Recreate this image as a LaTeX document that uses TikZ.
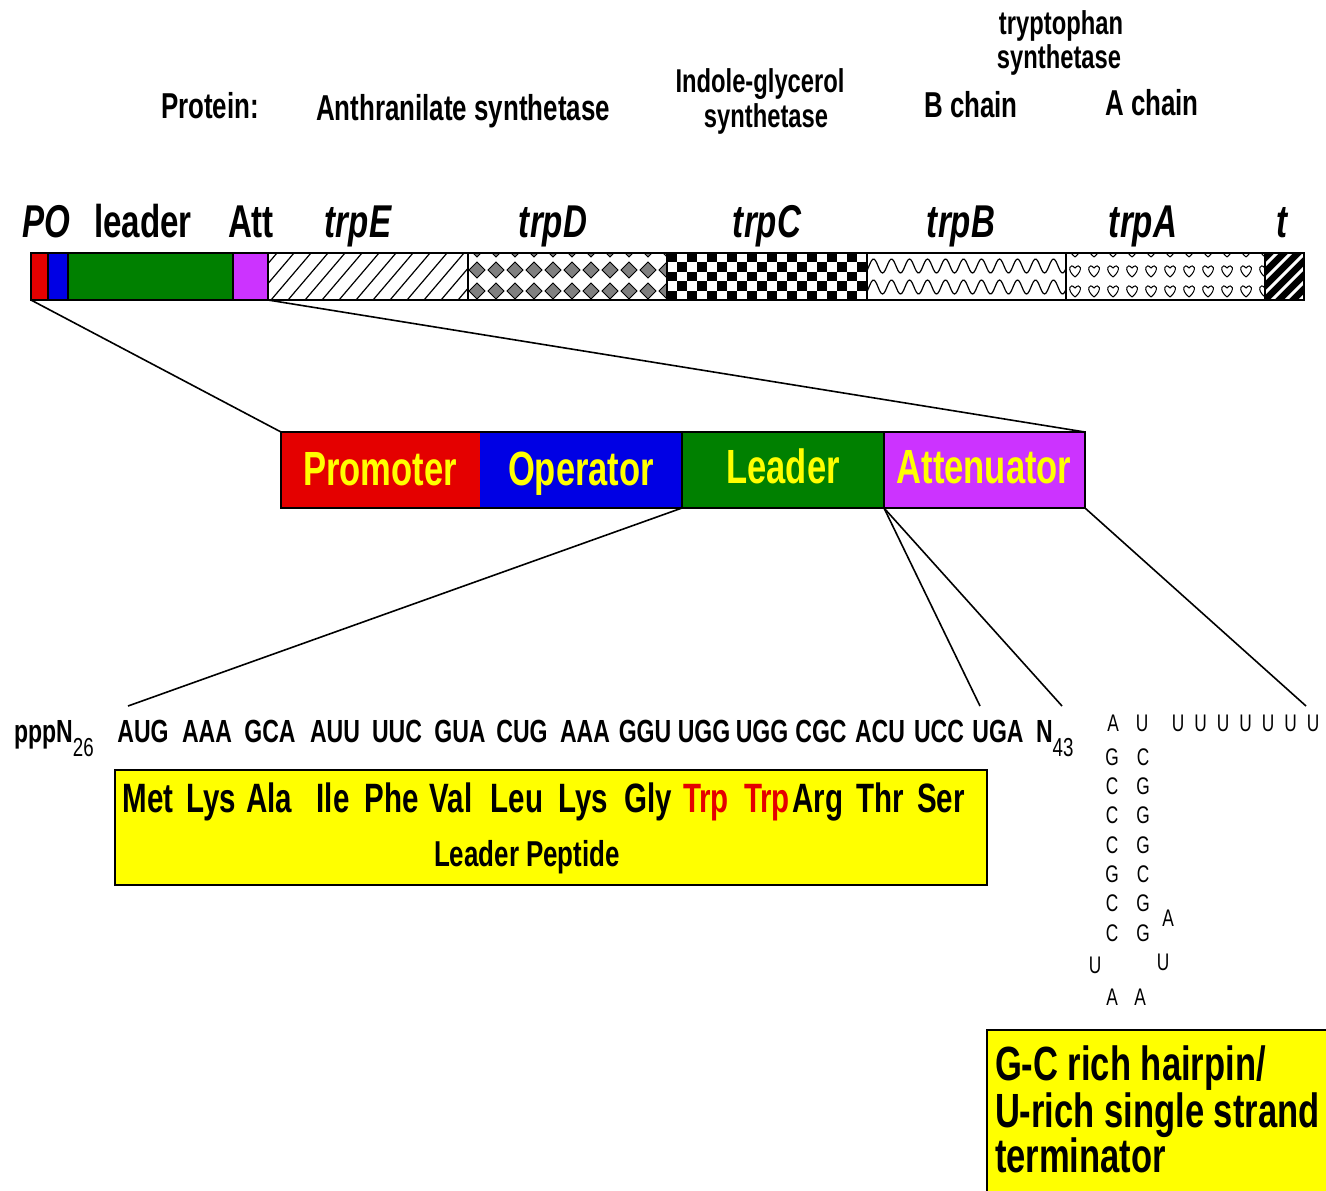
\documentclass[tikz,border=0pt]{standalone}
\usepackage{fontspec}
\setmainfont{Liberation Sans}[FakeStretch=0.72]
\usetikzlibrary{calc}
\definecolor{pred}{RGB}{228,0,0}
\definecolor{pblue}{RGB}{0,0,228}
\definecolor{pgreen}{RGB}{0,128,0}
\definecolor{pmag}{RGB}{204,51,255}
\definecolor{pyel}{RGB}{255,255,0}
\begin{document}
\begin{tikzpicture}[x=0.5pt,y=-0.5pt,
  every node/.style={inner sep=0pt,outer sep=0pt},
  conn/.style={line width=0.8pt},
  seg/.style={draw=black,line width=0.8pt,anchor=north west,minimum height=23.5pt},
  mbox/.style={anchor=north west,minimum height=38pt},
  toplab/.style={anchor=base,font=\fontsize{18}{20}\selectfont\bfseries},
  toplabs/.style={anchor=base,font=\fontsize{16.5}{18}\selectfont\bfseries},
  glab/.style={anchor=base,font=\fontsize{23}{25}\selectfont\bfseries},
  gilab/.style={anchor=base,font=\fontsize{23}{25}\selectfont\bfseries\itshape},
  midlab/.style={anchor=base,text=pyel,font=\fontsize{24}{26}\selectfont\bfseries},
  codon/.style={anchor=base,font=\fontsize{16}{18}\selectfont\bfseries},
  aa/.style={anchor=base,font=\fontsize{20.5}{23}\selectfont\bfseries},
  hp/.style={font=\fontsize{12}{14}\selectfont},
  termlab/.style={anchor=base west,font=\fontsize{24}{26}\selectfont\bfseries}]
\useasboundingbox (0,0) rectangle (1326,1190);
\fill[white] (0,0) rectangle (1326,1190);

% ---------- top protein labels ----------
\node[toplab] (tProt) at (210,118) {Protein:};
\node[toplab] (tAnth) at (463,120) {Anthranilate synthetase};
\node[toplabs] (tIgp1) at (760,92) {Indole-glycerol};
\node[toplabs] (tIgp2) at (766,127) {synthetase};
\node[toplabs] (tTs1) at (1061,34) {tryptophan};
\node[toplabs] (tTs2) at (1059,68) {synthetase};
\node[toplab] (tB) at (971,117) {B chain};
\node[toplab] (tA) at (1152,115) {A chain};

% ---------- gene labels ----------
\node[gilab] (gPO) at (46,237) {PO};
\node[glab] (gLd) at (143,237) {leader};
\node[glab] (gAt) at (251,237) {Att};
\node[gilab] (gE) at (358,237) {trpE};
\node[gilab] (gD) at (553,237) {trpD};
\node[gilab] (gC) at (767,237) {trpC};
\node[gilab] (gB) at (961,237) {trpB};
\node[gilab] (gA) at (1143,237) {trpA};
\node[gilab] (gT) at (1282,237) {t};

% ---------- patterns of the gene bar ----------
\begin{scope}
  \clip (268,253) rectangle (468,300);
  \foreach \k in {0,...,15} \draw[line width=0.6pt] ({220+\k*17},300) -- ++(40,-47);
\end{scope}
\begin{scope}
  \clip (468,253) rectangle (667,300);
  \foreach \cx in {0,...,10}{\foreach \cy in {249,270,291}{
    \filldraw[fill=black!50,line width=0.4pt,shift={({477+\cx*19},\cy)}] (0,-8) -- (8,0) -- (0,8) -- (-8,0) -- cycle;}}
\end{scope}
\begin{scope}
  \clip (667,253) rectangle (867,300);
  \foreach \i in {0,...,19}{\foreach \j in {0,...,4}{
    \pgfmathtruncatemacro\m{mod(\i+\j,2)}
    \ifnum\m=0 \fill ({667+\i*10},{253+\j*9.4}) rectangle ++(10,9.4); \fi}}
\end{scope}
\begin{scope}
  \clip (867,253) rectangle (1066,300);
  \foreach \yc in {245,266,287}{
    \draw[line width=0.6pt] plot[domain=0:210,samples=150,smooth] ({\x+860},{\yc+7*sin(20*\x)});}
\end{scope}
\begin{scope}
  \clip (1066,253) rectangle (1265,300);
  \foreach \cx in {0,...,10}{\foreach \cy in {251,271,291}{
    \draw[line width=0.5pt,shift={({1075+\cx*19},\cy)}] (0,6) .. controls (-9,-1) and (-5,-9) .. (0,-3) .. controls (5,-9) and (9,-1) .. (0,6);}}
\end{scope}
\fill[black] (1265,253) rectangle (1304,300);
\begin{scope}
  \clip (1265,253) rectangle (1304,300);
  \foreach \k in {0,...,6} \draw[white,line width=1.5pt] ({1230+\k*14},300) -- ++(47,-47);
\end{scope}

% ---------- gene bar segments ----------
\node[seg,fill=pred,minimum width=8.5pt] (sP) at (31,253) {};
\node[seg,fill=pblue,minimum width=10pt] (sO) at (48,253) {};
\node[seg,fill=pgreen,minimum width=82.5pt] (sL) at (68,253) {};
\node[seg,fill=pmag,minimum width=17.5pt] (sA) at (233,253) {};
\node[seg,minimum width=100pt] (sE) at (268,253) {};
\node[seg,minimum width=99.5pt] (sD) at (468,253) {};
\node[seg,minimum width=100pt] (sC) at (667,253) {};
\node[seg,minimum width=99.5pt] (sB) at (867,253) {};
\node[seg,minimum width=99.5pt] (sA2) at (1066,253) {};
\node[seg,minimum width=19.5pt] (sT) at (1265,253) {};
\draw[line width=1.2pt] (sP.north west) rectangle (sT.south east);

% ---------- expanded regulatory region ----------
\node[mbox,fill=pred,minimum width=99.5pt] (prom) at (281,432) {};
\node[mbox,fill=pblue,minimum width=101pt] (oper) at (480,432) {};
\node[mbox,fill=pgreen,minimum width=101pt] (lead) at (682,432) {};
\node[mbox,fill=pmag,minimum width=100.5pt] (att) at (884,432) {};
\draw[line width=0.9pt] (prom.north west) rectangle (att.south east);
\draw[line width=0.9pt] (lead.north west) -- (lead.south west);
\draw[line width=0.9pt] (att.north west) -- (att.south west);
\node[midlab] (mP) at (380,485) {Promoter};
\node[midlab] (mO) at (581,485) {Operator};
\node[midlab] (mL) at (783,483) {Leader};
\node[midlab] (mA) at (984,483) {Attenuator};

% ---------- connectors ----------
\coordinate (cA) at (128,706);
\coordinate (cB) at (980,706);
\coordinate (cC) at (1062,706);
\coordinate (cD) at (1306,706);
\draw[conn] (sP.south west) -- (prom.north west);
\draw[conn] (sA.south east) -- (att.north east);
\draw[conn] (lead.south west) -- (cA);
\draw[conn] (att.south west) -- (cB);
\draw[conn] (att.south west) -- (cC);
\draw[conn] (att.south east) -- (cD);

% ---------- sequence ----------
\node[codon,anchor=base west] (ppp) at (14,742) {pppN\raisebox{-7pt}{\fontsize{13}{13}\selectfont\mdseries 26}};
\foreach \c/\x [count=\i] in {AUG/143,AAA/207,GCA/270,AUU/335,UUC/397,GUA/460,CUG/522,AAA/585,GGU/645,UGG/704,UGG/762,CGC/821,ACU/880,UCC/939,UGA/998}
  {\node[codon] (cod\i) at (\x,742) {\c};}
\node[codon,anchor=base west] (n43) at (1036,742) {N\raisebox{-7pt}{\fontsize{13}{13}\selectfont\mdseries 43}};

% ---------- leader peptide box ----------
\node[draw,fill=pyel,line width=0.8pt,anchor=north west,minimum width=436pt,minimum height=57.5pt] (pepbox) at (115,770) {};
\foreach \a/\x/\col [count=\i] in {Met/148/black,Lys/211/black,Ala/269/black,Ile/333/black,Phe/392/black,Val/451/black,Leu/517/black,Lys/583/black,Gly/648/black,Trp/706/pred,Trp/767/pred,Arg/818/black,Thr/880/black,Ser/941/black}
  {\node[aa,text=\col] (aa\i) at (\x,812) {\a};}
\node[codon,font=\fontsize{18}{20}\selectfont\bfseries] (pep) at (527,866) {Leader Peptide};

% ---------- hairpin ----------
\node[hp] (hA0) at (1113,723) {A};
\node[hp] (hU0) at (1142,723) {U};
\foreach \k in {0,...,6} {\node[hp] (ht\k) at ({1178+\k*22.5},723) {U};}
\foreach \l/\r [count=\i from 0] in {G/C,C/G,C/G,C/G,G/C,C/G,C/G}
  {\node[hp] (hl\i) at (1112,{757+29.3*\i}) {\l};
   \node[hp] (hr\i) at (1143,{757+29.3*\i}) {\r};}
\node[hp] (hA1) at (1168,918) {A};
\node[hp] (hU1) at (1095,965) {U};
\node[hp] (hU2) at (1163,962) {U};
\node[hp] (hA2) at (1112,997) {A};
\node[hp] (hA3) at (1140,997) {A};

% ---------- terminator box ----------
\node[draw,fill=pyel,line width=0.8pt,anchor=north west,minimum width=180pt,minimum height=90pt] (termbox) at (987,1030) {};
\node[termlab] (term1) at (995,1080) {G-C rich hairpin/};
\node[termlab] (term2) at (995,1127) {U-rich single strand};
\node[termlab] (term3) at (995,1172) {terminator};
\end{tikzpicture}
\end{document}
